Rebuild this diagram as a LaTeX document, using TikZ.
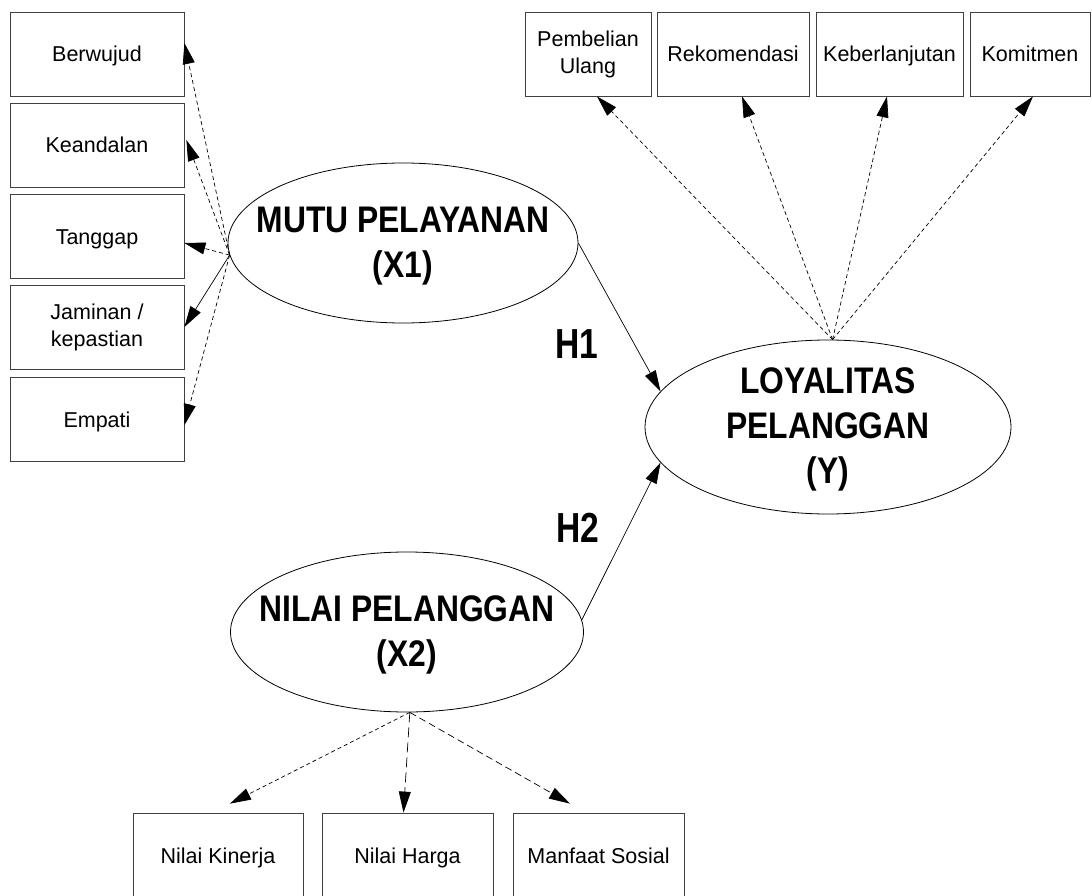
\documentclass[tikz,border=0pt]{standalone}
\usepackage{fontspec}
\setmainfont{Liberation Sans}
\newfontfamily\bigfont[FakeStretch=0.86]{Liberation Sans}
\newfontfamily\hfont[FakeStretch=0.8]{Liberation Sans}
\usetikzlibrary{shapes.geometric,arrows.meta,calc}
\begin{document}
\begin{tikzpicture}[x=1pt,y=-1pt,
  box/.style={draw=black!75, line width=0.8pt, rectangle, minimum height=84pt, inner sep=0pt, align=center, font=\fontsize{21.5}{27}\selectfont},
  one/.style={text height=19pt, text depth=3pt},
  latent/.style={draw=black, line width=0.8pt, ellipse, inner sep=0pt},
  ltext/.style={inner sep=0pt, align=center, font=\bigfont\bfseries\fontsize{37}{45}\selectfont},
  hlabel/.style={inner sep=0pt, font=\hfont\bfseries\fontsize{42}{50}\selectfont},
  tip/.style={-{Triangle[length=21pt,width=12pt]}, line width=0.7pt},
  sdash/.style={tip, dash pattern=on 4pt off 3pt},
  mdash/.style={tip, dash pattern=on 7pt off 4pt},
  ldash/.style={tip, dash pattern=on 10pt off 5pt}
]
\useasboundingbox (0,0) rectangle (1092,896);

% left indicator boxes
\node[box, one, minimum width=174pt] (b1) at (97,54) {Berwujud};
\node[box, one, minimum width=174pt] (b2) at (97,145) {Keandalan};
\node[box, one, minimum width=174pt] (b3) at (97,236) {Tanggap};
\node[box, minimum width=174pt] (b4) at (97,327) {Jaminan /\\kepastian};
\node[box, one, minimum width=174pt] (b5) at (97,419) {Empati};

% top indicator boxes
\node[box, minimum width=126pt] (t1) at (588,54) {Pembelian\\Ulang};
\node[box, one, minimum width=152pt] (t2) at (733,54) {Rekomendasi};
\node[box, one, minimum width=147pt] (t3) at (889.5,54) {Keberlanjutan};
\node[box, one, minimum width=120pt] (t4) at (1030,54) {Komitmen};

% bottom indicator boxes
\node[box, one, minimum width=170pt] (k1) at (218,855) {Nilai Kinerja};
\node[box, one, minimum width=171pt] (k2) at (407.5,855) {Nilai Harga};
\node[box, one, minimum width=171pt] (k3) at (598.5,855) {Manfaat Sosial};

% latent variables
\node[latent, minimum width=350pt, minimum height=160pt] (M) at (403,243) {};
\node[latent, minimum width=353pt, minimum height=160pt] (N) at (407,632) {};
\node[latent, minimum width=366pt, minimum height=174pt] (L) at (828,427) {};
\node[ltext] (Mt) at ($(M.center)+(0,3)$) {MUTU PELAYANAN\\(X1)};
\node[ltext] (Nt) at ($(N.center)+(0,3)$) {NILAI PELANGGAN\\(X2)};
\node[ltext] (Lt) at ($(L.center)+(0,2)$) {LOYALITAS\\PELANGGAN\\(Y)};

% hypothesis labels
\node[hlabel] (h1) at (577,344) {H1};
\node[hlabel] (h2) at (578,528) {H2};

% MUTU -> indicators
\draw[sdash] (M.184) -- ($(b1.east)+(0,-11)$);
\draw[sdash] (M.184) -- ($(b2.east)+(2,-5)$);
\draw[sdash] (M.184) -- ($(b3.east)+(0,7)$);
\draw[tip] (M.184) -- (b4.east);
\draw[sdash] (M.184) -- ($(b5.east)+(0,6)$);

% LOYALITAS -> indicators
\draw[sdash] (L.87) -- ($(t1.south)+(9,0)$);
\draw[sdash] (L.87) -- ($(t2.south)+(9,0)$);
\draw[sdash] (L.87) -- ($(t3.south)+(-2.5,0)$);
\draw[sdash] (L.87) -- ($(t4.south)+(3,0)$);

% NILAI -> indicators
\draw[sdash] (N.272) -- ($(k1.north)+(12,-9)$);
\draw[ldash] (N.272) -- ($(k2.north)+(-4,0)$);
\draw[mdash] (N.272) -- ($(k3.north)+(-28.5,-9)$);

% structural paths
\draw[tip] (M.east) -- (L.168);
\draw[tip] (N.4) -- (L.192);
\end{tikzpicture}
\end{document}
